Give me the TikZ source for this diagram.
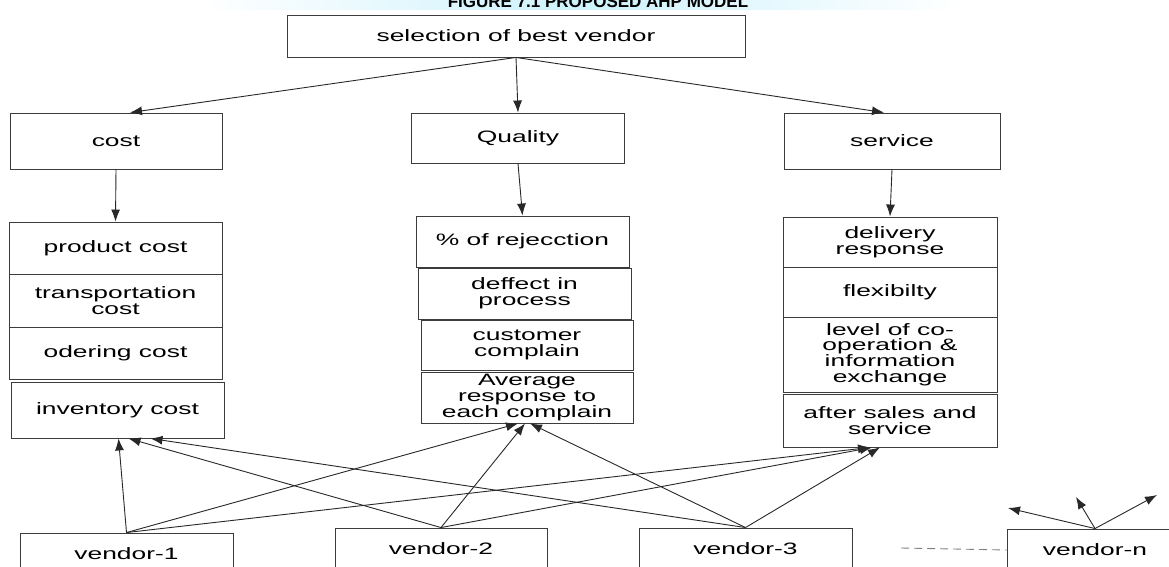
\documentclass[tikz,border=0pt]{standalone}
\usepackage{fontspec}
\usetikzlibrary{arrows.meta,shadings}
\newfontfamily\lab{Liberation Sans}[FakeStretch=1.6]
\newfontfamily\ttl{Liberation Sans}
\definecolor{boxgray}{RGB}{60,60,60}
\definecolor{linegray}{RGB}{40,40,40}
\definecolor{bandcyan}{RGB}{205,242,252}
\tikzset{
  box/.style={draw=boxgray, line width=0.9pt, inner sep=0pt, align=center,
    font=\lab\fontsize{16.5}{15.8}\selectfont, text=black},
  conn/.style={draw=linegray, line width=0.9pt, -{Latex[length=12pt,width=9pt]}},
  dashline/.style={draw=gray, line width=0.9pt, dash pattern=on 8pt off 5pt}
}
\begin{document}
\begin{tikzpicture}[x=1pt,y=-1pt]
\clip (0,0) rectangle (1169,567);
\fill[white] (0,0) rectangle (1169,567);
% title band
\shade[left color=white, right color=white, middle color=bandcyan] (200,-2) rectangle (960,10);
\node[font=\ttl\bfseries\fontsize{17}{17}\selectfont, anchor=base] (title) at (598,8) {FIGURE 7.1 PROPOSED AHP MODEL};
% top
\node[box, minimum width=458, minimum height=42] (sel) at (516,36) {selection of best vendor};
% criteria
\node[box, minimum width=212, minimum height=56] (cost) at (116,141) {cost};
\node[box, minimum width=213, minimum height=50] (qual) at (518,138) {Quality};
\node[box, minimum width=216, minimum height=56] (serv) at (892,141) {service};
% cost column
\node[box, minimum width=213, minimum height=52] (prod) at (115.5,248) {product cost};
\node[box, minimum width=213, minimum height=53] (trans) at (115.5,300.5) {transportation\\cost};
\node[box, minimum width=213, minimum height=52] (oder) at (115.5,353) {odering cost};
\node[box, minimum width=213, minimum height=56] (inv) at (117.5,410) {inventory cost};
% quality column
\node[box, minimum width=213, minimum height=51] (rej) at (522.5,241.5) {\% of rejecction};
\node[box, minimum width=213, minimum height=51] (def) at (524.5,293.5) {deffect in\\process};
\node[box, minimum width=212, minimum height=50] (cust) at (527,345) {customer\\complain};
\node[box, minimum width=212, minimum height=51] (avg) at (527,397.5) {Average\\response to\\each complain};
% service column
\node[box, minimum width=214, minimum height=50] (deliv) at (890,242) {delivery\\response};
\node[box, minimum width=214, minimum height=50] (flex) at (890,292) {flexibilty};
\node[box, minimum width=214, minimum height=75] (level) at (890,354.5) {level of co-\\operation \&\\information\\exchange};
\node[box, minimum width=214, minimum height=53] (after) at (890,420.5) {after sales and\\service};
% vendors
\node[box, minimum width=213, minimum height=42] (v1) at (126.5,554) {vendor-1};
\node[box, minimum width=212, minimum height=42] (v2) at (441,549) {vendor-2};
\node[box, minimum width=213, minimum height=42] (v3) at (745.5,549) {vendor-3};
\node[box, minimum width=176, minimum height=42] (vn) at (1095,550) {vendor-n};
% top arrows
\draw[conn] (sel.south) -- ([xshift=14]cost.north);
\draw[conn] (sel.south) -- (qual.north);
\draw[conn] (sel.south) -- ([xshift=-8]serv.north);
\draw[conn] (cost.south) -- (prod.north);
\draw[conn] (qual.south) -- (rej.north);
\draw[conn] (serv.south) -- (deliv.north);
% vendor arrows
\draw[conn] (v1.north) -- ([xshift=1]inv.south);
\draw[conn] (v1.north) -- ([xshift=-9]avg.south);
\draw[conn] (v1.north) -- ([xshift=-20]after.south);
\draw[conn] (v2.north) -- ([xshift=11]inv.south);
\draw[conn] (v2.north) -- ([xshift=-2]avg.south);
\draw[conn] (v2.north) -- ([xshift=-18]after.south);
\draw[conn] (v3.north) -- ([xshift=33]inv.south);
\draw[conn] (v3.north) -- ([xshift=3]avg.south);
\draw[conn] (v3.north) -- ([xshift=-10]after.south);
% vendor-n
\coordinate (n1) at (1008,508);
\coordinate (n2) at (1076,497);
\coordinate (n3) at (1157,495);
\draw[conn] (vn.north) -- (n1);
\draw[conn] (vn.north) -- (n2);
\draw[conn] (vn.north) -- (n3);
\coordinate (d1) at (901,548);
\draw[dashline] (d1) -- (vn.west);
\end{tikzpicture}
\end{document}
